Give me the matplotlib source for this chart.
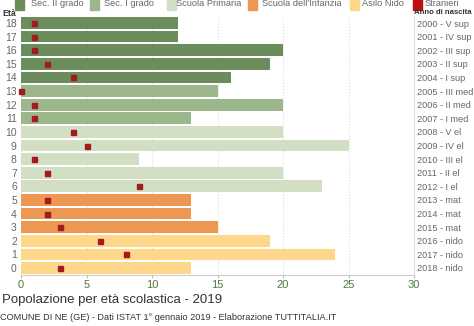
import numpy as np
import matplotlib.pyplot as plt
from matplotlib.patches import Rectangle

plt.rcParams['font.family'] = ['Liberation Sans', 'DejaVu Sans']

# dati: età 0..18
eta = list(range(19))
totale = [13, 24, 19, 15, 13, 13, 23, 20, 9, 25, 20, 13, 20, 15, 16, 19, 20, 12, 12]
stranieri = [3, 8, 6, 3, 2, 2, 9, 2, 1, 5, 4, 1, 1, 0, 4, 2, 1, 1, 1]
anni = ['2018 - nido', '2017 - nido', '2016 - nido', '2015 - mat', '2014 - mat',
        '2013 - mat', '2012 - I el', '2011 - II el', '2010 - III el', '2009 - IV el',
        '2008 - V el', '2007 - I med', '2006 - II med', '2005 - III med',
        '2004 - I sup', '2003 - II sup', '2002 - III sup', '2001 - IV sup', '2000 - V sup']

colori = {'Sec. II grado': '#6b8c5b', 'Sec. I grado': '#9db78c',
          'Scuola Primaria': '#d3dfc4', "Scuola dell'Infanzia": '#ec9752',
          'Asilo Nido': '#fed78b', 'Stranieri': '#c00d0d'}
livello = (['Asilo Nido'] * 3 + ["Scuola dell'Infanzia"] * 3 + ['Scuola Primaria'] * 5
           + ['Sec. I grado'] * 3 + ['Sec. II grado'] * 5)

fig = plt.figure(figsize=(4.74, 3.26), dpi=100)
ax = fig.add_axes([21 / 474, 1 - 274.8 / 326, (414 - 21) / 474, (274.8 - 16.2) / 326])

ax.barh(eta, totale, height=0.86, color=[colori[l] for l in livello], zorder=2)
ax.plot(stranieri, eta, 's', color='#a11c1c', markersize=3.6, zorder=3, clip_on=False)

ax.set_xlim(0, 30)
ax.set_ylim(-0.5, 18.5)
ax.set_xticks(range(0, 31, 5))
ax.set_yticks(eta)
ax.set_yticklabels([str(e) for e in eta])
ax.tick_params(axis='y', length=0, labelsize=7.5, labelcolor='#666666', pad=3)
ax.tick_params(axis='x', length=2, labelsize=8, labelcolor='#4f7a3c', color='#bbbbbb', pad=2)
ax.grid(axis='x', color='#dddddd', linestyle=':', linewidth=0.8, zorder=0)
for s in ['top', 'left', 'right']:
    ax.spines[s].set_visible(False)
ax.spines['bottom'].set_color('#cccccc')

ax2 = ax.twinx()
ax2.set_ylim(-0.5, 18.5)
ax2.set_yticks(eta)
ax2.set_yticklabels(anni)
ax2.tick_params(axis='y', length=0, labelsize=6.6, labelcolor='#666666', pad=2)
for s in ['top', 'left', 'bottom']:
    ax2.spines[s].set_visible(False)
ax2.spines['right'].set_color('#dddddd')

fig.text(2 / 474, 1 - 13 / 326, 'Età', fontsize=6.3, fontweight='bold', color='#333333', va='center')
fig.text(414 / 474, 1 - 13 / 326, 'Anno di nascita', fontsize=5.6, fontweight='bold',
         color='#333333', va='center')

# legenda manuale
leg_x = [(15, 31), (90, 104), (167, 176), (248, 262), (350, 362), (413, 425)]
for (sx, tx), nome in zip(leg_x, colori):
    fig.patches.append(Rectangle((sx / 474, 1 - 10 / 326), 9 / 474, 12 / 326,
                                 transform=fig.transFigure, color=colori[nome]))
    fig.text(tx / 474, 1 - 4 / 326, nome, fontsize=6.7, color='#666666', va='center')

fig.text(2 / 474, 1 - 300 / 326, 'Popolazione per età scolastica - 2019', fontsize=9.5,
         color='#333333', va='center')
fig.text(0, 1 - 318 / 326, 'COMUNE DI NE (GE) - Dati ISTAT 1° gennaio 2019 - Elaborazione TUTTITALIA.IT',
         fontsize=6.6, color='#333333', va='center')

fig.savefig('out.png', dpi=100)
